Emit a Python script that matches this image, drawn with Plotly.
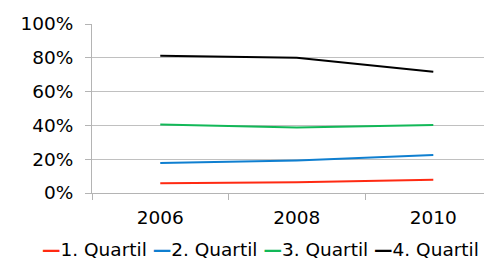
import plotly.graph_objects as go

years = ["2006", "2008", "2010"]
q1 = [5.7, 6.4, 7.8]
q2 = [17.8, 19.3, 22.5]
q3 = [40.6, 38.8, 40.2]
q4 = [81.2, 80.0, 71.7]
series_names = ["1. Quartil", "2. Quartil", "3. Quartil", "4. Quartil"]
series_colors = ["#ff2a12", "#0f7fd0", "#12b858", "#000000"]
y_ticks = [0, 20, 40, 60, 80, 100]
y_ticktext = ["0%", "20%", "40%", "60%", "80%", "100%"]

FONT = "DejaVu Sans"
FS = 18.5

fig = go.Figure()
for name, vals, col in zip(series_names, [q1, q2, q3, q4], series_colors):
    fig.add_trace(go.Scatter(x=years, y=vals, mode="lines", name=name,
                             line=dict(color=col, width=2), showlegend=False))

legend_text = " ".join(
    f"<span style='color:{c}'><b>—</b></span>{n}" for n, c in zip(series_names, series_colors)
)
fig.add_annotation(text=legend_text, xref="paper", yref="paper", x=0.42125, y=0,
                   xanchor="center", yanchor="middle", yshift=-56, showarrow=False,
                   font=dict(family=FONT, size=FS, color="#000000"))

# page body has an 8px default margin, so the figure is offset by 8px
fig.update_layout(
    width=484, height=251,
    margin=dict(l=84, r=0, t=16, b=66),
    plot_bgcolor="white", paper_bgcolor="white",
    font=dict(family=FONT, size=FS, color="#000000"),
    xaxis=dict(type="category", range=[-0.5, 2.43], tickson="boundaries",
               ticks="outside", ticklen=6, tickcolor="#b4b4b4", tickwidth=1,
               showline=True, linecolor="#b4b4b4", linewidth=1,
               showgrid=False, zeroline=False, ticklabelstandoff=8),
    yaxis=dict(range=[0, 100], tickvals=y_ticks, ticktext=y_ticktext,
               ticks="outside", ticklen=6, tickcolor="#b4b4b4", tickwidth=1,
               showline=True, linecolor="#b4b4b4", linewidth=1,
               showgrid=True, gridcolor="#c0c0c0", gridwidth=1,
               zeroline=False, ticklabelstandoff=8),
)

fig.write_html("out.html")
